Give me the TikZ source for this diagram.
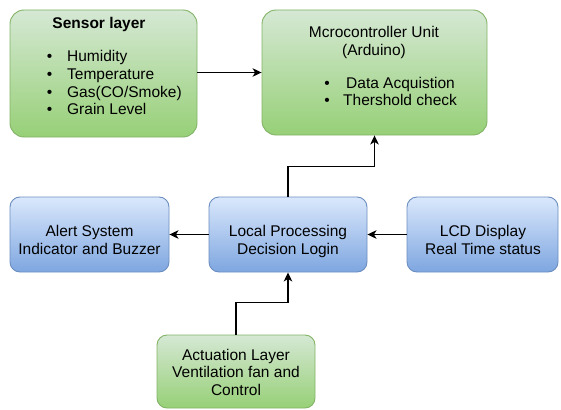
\documentclass[tikz,border=0pt]{standalone}
\usepackage{fontspec}
\setmainfont{Liberation Sans}
\usetikzlibrary{arrows.meta}

\definecolor{gtop}{HTML}{D5E8D4}
\definecolor{gbot}{HTML}{97D077}
\definecolor{gline}{HTML}{82B366}
\definecolor{btop}{HTML}{DAE8FC}
\definecolor{bbot}{HTML}{7EA6E0}
\definecolor{bline}{HTML}{6C8EBF}

\tikzset{
  greenbox/.style={draw=gline, line width=0.9pt, top color=gtop, bottom color=gbot,
    inner sep=0pt},
  bluebox/.style={draw=bline, line width=0.9pt, top color=btop, bottom color=bbot,
    inner sep=0pt, rounded corners=10pt, minimum width=#1, minimum height=75pt},
  lbl/.style={inner sep=0pt, anchor=base, font=\fontsize{15.5}{18}\selectfont},
  item/.style={inner sep=0pt, anchor=base west, font=\fontsize{15.5}{18}\selectfont},
  flow/.style={draw=black, line width=1.3pt, -{Stealth[length=9pt,width=8.5pt,inset=2.5pt]}},
}

\begin{document}
\begin{tikzpicture}[x=1pt, y=-1pt]
\useasboundingbox (0,0) rectangle (561,409);

% boxes
\node[greenbox, rounded corners=14pt, minimum width=187pt, minimum height=127pt]
  (sensor) at (103.5,73.5) {};
\node[greenbox, rounded corners=14pt, minimum width=225pt, minimum height=125pt]
  (micro) at (374.5,72.5) {};
\node[bluebox=159pt] (alert) at (89.5,234.5) {};
\node[bluebox=158pt] (local) at (288,234.5) {};
\node[bluebox=151pt] (lcd) at (482.5,234.5) {};
\node[greenbox, rounded corners=10pt, minimum width=158pt, minimum height=73pt]
  (act) at (236,371.5) {};

% sensor layer text
\node[lbl, font=\fontsize{15.5}{18}\selectfont\bfseries] (sensorT) at (99,29) {Sensor layer};
\node[item] (s1) at (67,61.5)  {\llap{•\hspace{15pt}}Humidity};
\node[item] (s2) at (67,79.3)  {\llap{•\hspace{15pt}}Temperature};
\node[item] (s3) at (67,97.1)  {\llap{•\hspace{15pt}}Gas(CO/Smoke)};
\node[item] (s4) at (67,114.9) {\llap{•\hspace{15pt}}Grain Level};

% microcontroller text
\node[lbl] (m1) at (374,37.5) {Mcrocontroller Unit};
\node[lbl] (m2) at (374,55.8) {(Arduino)};
\node[item] (m3) at (346,88.3) {\llap{•\hspace{16.3pt}}Data Acquistion};
\node[item] (m4) at (343,106)  {\llap{•\hspace{13.3pt}}Thershold check};

% middle row text
\node[lbl] (a1) at (89.5,236)   {Alert System};
\node[lbl] (a2) at (89.5,254.5) {Indicator and Buzzer};
\node[lbl] (l1) at (288,236)    {Local Processing};
\node[lbl] (l2) at (288,254.5)  {Decision Login};
\node[lbl] (d1) at (483,236)    {LCD Display};
\node[lbl] (d2) at (483,254.5)  {Real Time status};

% actuation text
\node[lbl] (c1) at (236,360)   {Actuation Layer};
\node[lbl] (c2) at (236,377.5) {Ventilation fan and};
\node[lbl] (c3) at (236,395)   {Control};

% connectors
\draw[flow] (sensor.east |- micro.west) -- (micro.west);
\draw[flow] (local.north) -- ++(0,-30) -| (micro.south);
\draw[flow] (local.west) -- (alert.east);
\draw[flow] (lcd.west) -- (local.east);
\draw[flow] (act.north) -- ++(0,-32) -| (local.south);
\end{tikzpicture}
\end{document}
